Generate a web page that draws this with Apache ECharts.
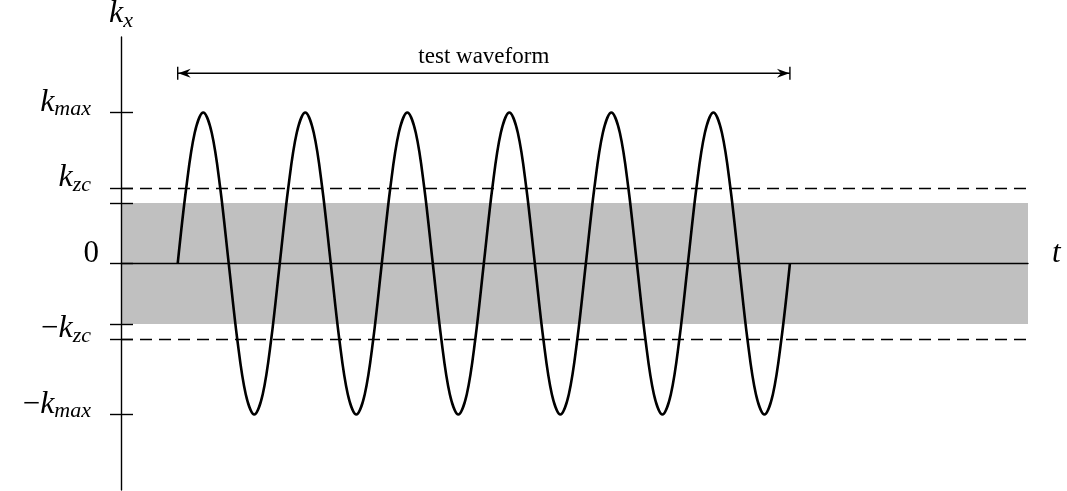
<!DOCTYPE html>
<html><head><meta charset="utf-8">
<script src="https://cdn.jsdelivr.net/npm/echarts@6/dist/echarts.min.js"></script>
<style>html,body{margin:0;padding:0;background:#fff}#c{width:1067px;height:491px}</style>
</head><body><div id="c"></div>
<script>
// Waveform samples every 1/12 of a period (6 periods)
const waveK = [
  0, 0.5, 0.866, 1, 0.866, 0.5, 0, -0.5, -0.866, -1, -0.866, -0.5,
  0, 0.5, 0.866, 1, 0.866, 0.5, 0, -0.5, -0.866, -1, -0.866, -0.5,
  0, 0.5, 0.866, 1, 0.866, 0.5, 0, -0.5, -0.866, -1, -0.866, -0.5,
  0, 0.5, 0.866, 1, 0.866, 0.5, 0, -0.5, -0.866, -1, -0.866, -0.5,
  0, 0.5, 0.866, 1, 0.866, 0.5, 0, -0.5, -0.866, -1, -0.866, -0.5,
  0, 0.5, 0.866, 1, 0.866, 0.5, 0, -0.5, -0.866, -1, -0.866, -0.5,
  0
];
const tickValues = [1, 0.5, 0.4, 0, -0.4, -0.5, -1];
const labelValues = [1, 0.5, 0, -0.5, -1];
const labelTexts = ['{k|k}{s|max}', '{k|k}{s|zc}', '{n|0}', '{m|\u2212}{k|k}{s|zc}', '{m|\u2212}{k|k}{s|max}'];
const kzcLevel = 0.5;
const bandLimit = 0.4;
const arrowSpan = [0, 72];
const arrowLevel = 1.26;
const arrowTextLevel = 1.37;
const arrowText = 'test waveform';
const xName = 't';
const yName = '{k|k}{s|x}';

const SERIF = '"Liberation Serif", "DejaVu Serif", serif';
const mathRich = {
  k: { fontFamily: SERIF, fontStyle: 'italic', fontSize: 32, color: '#000', lineHeight: 36 },
  s: { fontFamily: SERIF, fontStyle: 'italic', fontSize: 22, color: '#000', verticalAlign: 'bottom', lineHeight: 24, padding: [0, 8, 0, 0] },
  m: { fontFamily: SERIF, fontSize: 31, color: '#000', lineHeight: 36 },
  n: { fontFamily: SERIF, fontSize: 31, color: '#000', lineHeight: 36 }
};
const nameRich = {
  k: { fontFamily: SERIF, fontStyle: 'italic', fontSize: 32, color: '#000', lineHeight: 36 },
  s: { fontFamily: SERIF, fontStyle: 'italic', fontSize: 22, color: '#000', verticalAlign: 'bottom', lineHeight: 24 }
};

const chart = echarts.init(document.getElementById('c'), null, { renderer: 'canvas' });
chart.setOption({
  animation: false,
  backgroundColor: '#fff',
  grid: { left: 121, right: 39, top: 37, bottom: 1, containLabel: false, outerBoundsMode: 'none' },
  xAxis: {
    type: 'value', min: -6.67, max: 100, z: 3,
    axisLine: { show: true, onZero: true, lineStyle: { color: '#000', width: 1.4 } },
    axisTick: { show: false }, axisLabel: { show: false }, splitLine: { show: false },
    name: xName, nameLocation: 'end', nameGap: 24,
    nameTextStyle: { fontFamily: SERIF, fontStyle: 'italic', fontSize: 31, color: '#000', verticalAlign: 'bottom', lineHeight: 20 }
  },
  yAxis: [{
    type: 'value', min: -1.5, max: 1.5, position: 'left', z: 3,
    axisLine: { show: true, onZero: false, lineStyle: { color: '#000', width: 1.4 } },
    axisTick: { show: true, inside: false, length: 11, customValues: tickValues, lineStyle: { color: '#000', width: 1.4 } },
    axisLabel: {
      show: true, customValues: labelValues, margin: 22, padding: [0, 0, 20, 0],
      formatter: function (v) { const i = labelValues.indexOf(v); return i >= 0 ? labelTexts[i] : ''; },
      rich: mathRich
    },
    splitLine: { show: false },
    name: yName, nameLocation: 'end', nameGap: 5,
    nameTextStyle: { rich: nameRich, align: 'center' }
  }, {
    type: 'value', min: -1.5, max: 1.5, position: 'left', z: 3,
    axisLine: { show: false, onZero: false },
    axisTick: { show: true, inside: true, length: 12, customValues: tickValues, lineStyle: { color: '#000', width: 1.4 } },
    axisLabel: { show: false }, splitLine: { show: false }
  }],
  series: [{
    type: 'line', name: 'band', data: [], z: 1, silent: true,
    markArea: {
      silent: true,
      itemStyle: { color: '#c0c0c0' },
      data: [[{ xAxis: 'min', yAxis: -bandLimit }, { xAxis: 'max', yAxis: bandLimit }]]
    },
    markLine: {
      silent: true, symbol: 'none', label: { show: false },
      lineStyle: { color: '#000', width: 1.4, type: [12, 7] },
      data: [{ yAxis: kzcLevel }, { yAxis: -kzcLevel }]
    }
  }, {
    type: 'line', name: 'wave', z: 4,
    data: waveK.map((v, i) => [i, v]),
    showSymbol: false, smooth: 0.35,
    lineStyle: { color: '#000', width: 2.6 }
  }, {
    type: 'custom', name: 'arrow', z: 4,
    data: [[arrowSpan[0], arrowSpan[1], arrowLevel, arrowTextLevel]],
    encode: { x: [0, 1], y: [2, 3] },
    renderItem: function (params, api) {
      const a = api.coord([api.value(0), api.value(2)]);
      const b = api.coord([api.value(1), api.value(2)]);
      const m = api.coord([(api.value(0) + api.value(1)) / 2, api.value(3)]);
      const st = { stroke: '#000', lineWidth: 1.4 };
      return {
        type: 'group', children: [
          { type: 'line', shape: { x1: a[0], y1: a[1], x2: b[0], y2: b[1] }, style: st },
          { type: 'line', shape: { x1: a[0], y1: a[1] - 6.5, x2: a[0], y2: a[1] + 6.5 }, style: st },
          { type: 'line', shape: { x1: b[0], y1: b[1] - 6.5, x2: b[0], y2: b[1] + 6.5 }, style: st },
          { type: 'polygon', shape: { points: [[a[0] + 0.5, a[1]], [a[0] + 13, a[1] - 4.5], [a[0] + 9, a[1]], [a[0] + 13, a[1] + 4.5]] }, style: { fill: '#000' } },
          { type: 'polygon', shape: { points: [[b[0] - 0.5, b[1]], [b[0] - 13, b[1] - 4.5], [b[0] - 9, b[1]], [b[0] - 13, b[1] + 4.5]] }, style: { fill: '#000' } },
          { type: 'text', x: m[0], y: m[1], style: { text: arrowText, fontFamily: SERIF, fontSize: 23, fill: '#000', align: 'center', verticalAlign: 'middle' } }
        ]
      };
    }
  }]
});
</script></body></html>
